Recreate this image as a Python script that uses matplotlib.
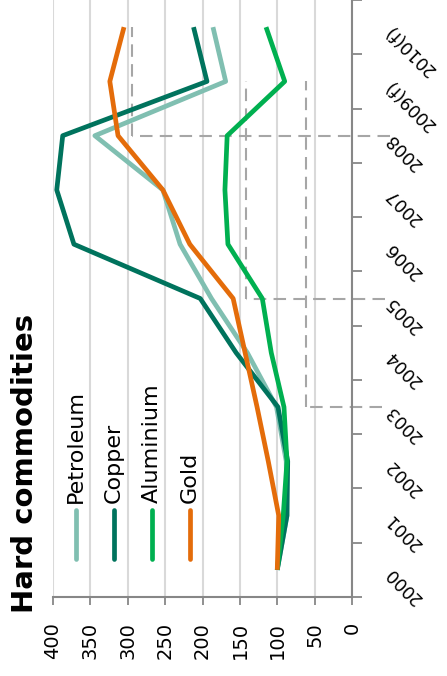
import numpy as np
import matplotlib
matplotlib.use("Agg")
import matplotlib.pyplot as plt
from matplotlib.lines import Line2D

# price index, 2000 = 100
years = ["2000", "2001", "2002", "2003", "2004", "2005", "2006",
         "2007", "2008", "2009(f)", "2010(f)"]
petroleum = [100, 87, 88, 101, 140, 188, 230, 253, 344, 169, 186]
copper = [100, 87, 86, 99, 155, 203, 372, 395, 387, 194, 212]
aluminium = [100, 92, 87, 91, 108, 120, 166, 170, 167, 90, 115]
gold = [100, 98, 112, 127, 143, 159, 217, 253, 313, 324, 305]

series = ["Petroleum", "Copper", "Aluminium", "Gold"]
colors = ["#80bfb1", "#00735d", "#00b050", "#e46c0a"]

# dashed reference brackets: start year index, level, end year index
bracket_start = [8, 5, 3]
bracket_level = [294, 142, 62]
bracket_end = [10, 9, 9]
bracket_tail = [-51, -44, -40]

W, H = 447, 676
fig = plt.figure(figsize=(W / 100, H / 100), dpi=100)
ax = fig.add_axes([53 / W, 79 / H, (352 - 53) / W, 597 / H])

idx = np.arange(len(years))
for name, vals, c in zip(series, [petroleum, copper, aluminium, gold], colors):
    ax.plot(vals, idx, color=c, lw=3.4, solid_joinstyle="round",
            solid_capstyle="butt", zorder=3)

dash = (0, (6, 3.5))
for s, lvl, e, t in zip(bracket_start, bracket_level, bracket_end, bracket_tail):
    ax.plot([t, lvl], [s, s], color="#a6a6a6", lw=1.5, ls=dash,
            clip_on=False, zorder=2)
    ax.plot([lvl, lvl], [s, e], color="#a6a6a6", lw=1.5, ls=dash,
            clip_on=False, zorder=2)

ax.set_xlim(400, 0)
ax.set_ylim(-0.5, len(years) - 0.5)

# value axis (bottom)
ax.set_xticks(np.arange(0, 401, 50))
ax.set_xticklabels([str(v) for v in range(0, 401, 50)], rotation=90,
                   fontsize=14)
ax.tick_params(axis="x", direction="out", length=6, width=1.3,
               color="#878787", pad=12)
ax.grid(axis="x", color="#d9d9d9", lw=1.5, zorder=0)

# category axis (right)
ax.yaxis.tick_right()
ax.set_yticks(np.arange(-0.5, len(years), 1))
ax.set_yticklabels([])
ax.set_yticks(idx, minor=True)
ax.set_yticklabels(years, minor=True, fontsize=12.5)
ax.tick_params(axis="y", which="major", direction="out", length=7,
               width=1.3, color="#878787")
ax.tick_params(axis="y", which="minor", length=0, pad=26)
for lbl in ax.get_yticklabels(minor=True):
    lbl.set_rotation(135)
    lbl.set_rotation_mode("anchor")
    lbl.set_ha("right")
    lbl.set_va("center")

for side in ["left", "top"]:
    ax.spines[side].set_visible(False)
for side in ["right", "bottom"]:
    ax.spines[side].set_color("#878787")
    ax.spines[side].set_linewidth(1.5)

# legend, laid out along the value axis
leg_x = [76, 114, 152, 190]
for name, c, x in zip(series, colors, leg_x):
    fig.add_artist(Line2D([x / W, x / W], [1 - 510 / H, 1 - 559 / H],
                          color=c, lw=3.4, solid_capstyle="round",
                          transform=fig.transFigure))
    fig.text(x / W, 1 - 503 / H, name, rotation=90, ha="center",
             va="bottom", fontsize=16)

fig.text(25 / W, 1 - 463 / H, "Hard commodities", rotation=90,
         ha="center", va="center", fontsize=21, fontweight="bold")

fig.savefig("out.png", dpi=100)
